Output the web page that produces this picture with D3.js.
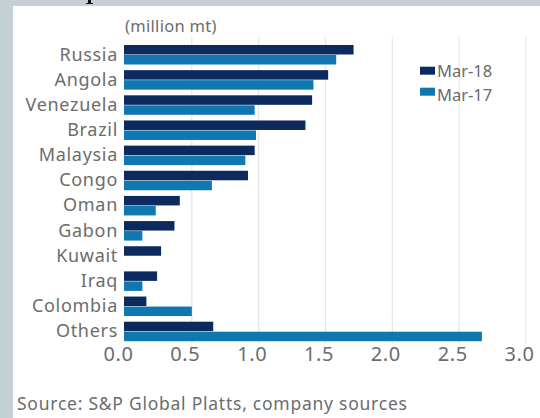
<!DOCTYPE html>
<html><head><meta charset="utf-8">
<script src="https://cdn.jsdelivr.net/npm/d3@7"></script>
<style>html,body{margin:0;padding:0;background:#c5cfd6;}svg{display:block;}</style>
</head><body>
<svg id="c" width="540" height="418"></svg>
<script>
const categories = ["Russia","Angola","Venezuela","Brazil","Malaysia","Congo","Oman","Gabon","Kuwait","Iraq","Colombia","Others"];
const mar18 = [1.71,1.52,1.40,1.35,0.97,0.92,0.41,0.37,0.27,0.24,0.16,0.66];
const mar17 = [1.58,1.41,0.97,0.98,0.90,0.65,0.23,0.13,0.00,0.13,0.50,2.67];
const seriesNames = ["Mar-18","Mar-17"];
const xTicks = [0,0.5,1.0,1.5,2.0,2.5,3.0];
const unitLabel = "(million mt)";
const sourceText = "Source: S&P Global Platts, company sources";

const colors = ["#0c2a5e","#0f78b0"];
const font = "'Noto Sans', sans-serif";
const textCol = "#6c6c6c";
const svg = d3.select("#c");
svg.append("rect").attr("width",540).attr("height",418).attr("fill","#c5cfd6");
svg.append("rect").attr("x",13).attr("y",6).attr("width",527).attr("height",412).attr("fill","#ffffff");
// small dark fragment at the top edge of the photo
svg.append("path").attr("d","M88,0 L91,0 L91,3 L93,3 L93,4 L86,4 L86,3 L88,3 Z").attr("fill","#111");

const x = d3.scaleLinear().domain([0,3]).range([125,526]);
const y = d3.scaleBand().domain(categories).range([45,341.2]).paddingInner(0.225).paddingOuter(0);
const sub = d3.scaleBand().domain(seriesNames).range([0,y.bandwidth()]).paddingInner(0.05);

// gridlines
svg.append("g").selectAll("line").data(xTicks.filter(d=>d>0)).join("line")
  .attr("x1",d=>x(d)).attr("x2",d=>x(d)).attr("y1",37).attr("y2",344)
  .attr("stroke","#e6e6e6").attr("stroke-width",1.2);

// x axis labels
const xAxis = d3.axisBottom(x).tickValues(xTicks).tickFormat(d3.format(".1f")).tickSize(0).tickPadding(0);
const gx = svg.append("g").attr("transform","translate(0,343)").call(xAxis);
gx.select(".domain").remove();
gx.selectAll("text").attr("font-family",font).attr("font-size",20).attr("letter-spacing","0.6px").attr("fill",textCol)
  .attr("dx",-7).attr("dy","0.88em");

// y axis labels
const yAxis = d3.axisLeft(y).tickSize(0).tickPadding(6);
const gy = svg.append("g").attr("transform","translate(124,0)").call(yAxis);
gy.select(".domain").remove();
gy.selectAll("text").attr("font-family",font).attr("font-size",18).attr("letter-spacing","0.7px").attr("fill",textCol);

// bars
const series = [mar18, mar17];
series.forEach((vals,si)=>{
  svg.append("g").selectAll("rect").data(categories).join("rect")
    .attr("x",x(0)-1).attr("y",(c)=>y(c)+sub(seriesNames[si]))
    .attr("width",(c,i)=>vals[i]>0? x(vals[i])-x(0)+1 : 0)
    .attr("height",sub.bandwidth())
    .attr("fill",colors[si]);
});

// unit label
svg.append("text").attr("x",125).attr("y",32).attr("font-family",font).attr("font-size",16.5).attr("letter-spacing","0.3px").attr("fill",textCol).text(unitLabel);

// legend
const lg = svg.append("g");
seriesNames.forEach((n,i)=>{
  lg.append("rect").attr("x",420).attr("y",66.7+i*21).attr("width",15).attr("height",8).attr("fill",colors[i]);
  lg.append("text").attr("x",437).attr("y",76.7+i*24).attr("font-family",font).attr("font-size",16.5).attr("fill",textCol).text(n);
});

// source
svg.append("text").attr("x",17).attr("y",410).attr("font-family",font).attr("font-size",17.5).attr("letter-spacing","0.75px").attr("fill",textCol).text(sourceText);
</script>
</body></html>
